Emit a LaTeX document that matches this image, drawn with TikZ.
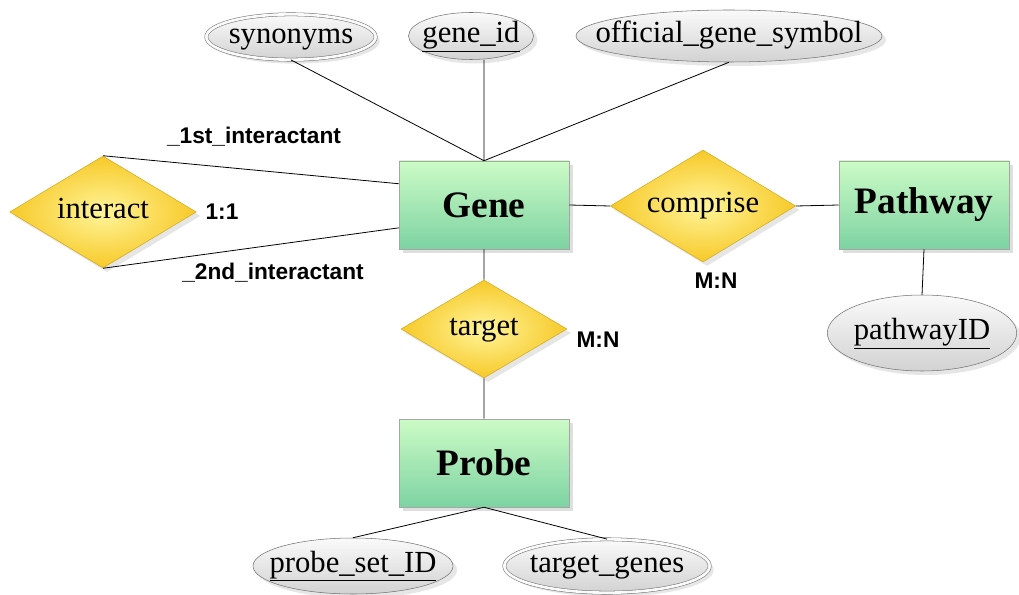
\documentclass[tikz,border=0pt]{standalone}
\usepackage{fontspec}
\setmainfont{Liberation Serif}
\setsansfont{Liberation Sans}
\usetikzlibrary{shapes.geometric,shadows}

\definecolor{entTop}{HTML}{CCFBC6}
\definecolor{entBot}{HTML}{7DD3A2}
\definecolor{relIn}{HTML}{FFF59A}
\definecolor{relOut}{HTML}{F7C928}
\definecolor{attTop}{HTML}{FAFAFA}
\definecolor{attBot}{HTML}{D2D2D2}

\tikzset{
    entity/.style={rectangle, draw=black!35, top color=entTop, bottom color=entBot,
        minimum width=127.5pt, minimum height=66pt, inner sep=0pt,
        font=\fontsize{28}{30}\selectfont\bfseries,
        drop shadow={opacity=.25, shadow xshift=3pt, shadow yshift=-3pt}},
    relation/.style={diamond, draw=relOut!85!black, inner color=relIn, outer color=relOut,
        inner sep=0pt, text height=.95em, text depth=0em,
        font=\fontsize{23}{25}\selectfont,
        drop shadow={opacity=.2, shadow xshift=3pt, shadow yshift=-3pt}},
    attrib/.style={ellipse, draw=black!55, top color=attTop, bottom color=attBot,
        inner sep=0pt, text height=.95em, text depth=0em,
        font=\fontsize{23}{25}\selectfont,
        drop shadow={opacity=.2, shadow xshift=3pt, shadow yshift=-3pt}},
    multi/.style={attrib, double=attTop, double distance=2pt},
    card/.style={font=\sffamily\bfseries\fontsize{17}{19}\selectfont},
    link/.style={draw, line width=.6pt}
}

\begin{document}
\begin{tikzpicture}[x=0.75pt, y=-0.75pt]
    \useasboundingbox (0,0) rectangle (1019,595);

    % Entitaeten
    \node [entity] (gene)    at (484,205) {Gene};
    \node [entity] (pathway) at (924,205) {Pathway};
    \node [entity] (probe)   at (484,463) {Probe};

    % Beziehungen
    \node [relation, minimum width=140pt, minimum height=84pt]   (interact) at (103,212) {\makebox[0pt]{interact}};
    \node [relation, minimum width=139pt, minimum height=84pt]   (comprise) at (703,206) {\makebox[0pt]{comprise}};
    \node [relation, minimum width=124.5pt, minimum height=73.5pt] (target) at (484,329) {\makebox[0pt]{target}};

    % Attribute
    \node [multi,  minimum width=127pt, minimum height=34pt] (synonyms) at (291,37) {\makebox[0pt]{synonyms}};
    \node [attrib, minimum width=93.75pt, minimum height=35.25pt] (geneid) at (471,36) {\makebox[0pt]{\underline{gene\_id}}};
    \node [attrib, minimum width=229.5pt, minimum height=39pt] (symbol) at (729,36) {\makebox[0pt]{official\_gene\_symbol}};
    \node [attrib, minimum width=142pt, minimum height=57pt] (pathwayid) at (922,333) {\makebox[0pt]{\underline{pathwayID}}};
    \node [attrib, minimum width=150pt, minimum height=42pt] (probesetid) at (353,566) {\makebox[0pt]{\underline{probe\_set\_ID}}};
    \node [multi,  minimum width=154pt, minimum height=40pt] (targetgenes) at (607,566) {\makebox[0pt]{target\_genes}};

    % Verbindungen
    \draw [link] (synonyms.south) -- (gene.north)
                 (gene.north |- geneid.south) -- (gene.north)
                 (symbol.south) -- (gene.north)
                 (interact.north) -- (gene.166)
                 (interact.south) -- (gene.195)
                 (gene.east) -- (comprise.west)
                 (comprise.east) -- (pathway.west)
                 (pathway.south) -- (pathwayid.north)
                 (gene.south) -- (target.north)
                 (target.south) -- (probe.north)
                 (probe.south) -- (probesetid.north)
                 (probe.south) -- (targetgenes.north);

    % Kardinalitaeten
    \node [card] (first)  at (254,137) {\_1st\_interactant};
    \node [card] (ones)   at (222,212) {1:1};
    \node [card] (second) at (273,273) {\_2nd\_interactant};
    \node [card] (mnpath) at (716,281) {M:N};
    \node [card] (mnprobe) at (598,340) {M:N};

\end{tikzpicture}
\end{document}
